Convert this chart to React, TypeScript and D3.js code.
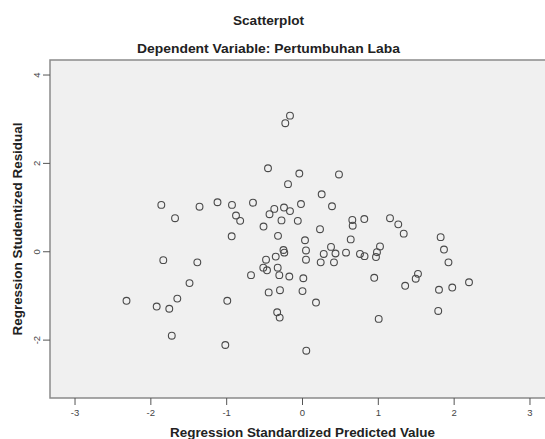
import React, { useEffect, useRef } from "react";
import * as d3 from "d3";

const titleText = "Scatterplot";
const subtitleText = "Dependent Variable: Pertumbuhan Laba";
const xTitle = "Regression Standardized Predicted Value";
const yTitle = "Regression Studentized Residual";

const xTicks = [-3, -2, -1, 0, 1, 2, 3];
const yTicks = [-2, 0, 2, 4];

const predicted = [
  -0.165, -0.227, -0.455, -0.042, -0.191, -1.862, -1.681, -1.358, -1.121, -0.93,
  -0.653, -0.877, -0.822, -0.514, -0.435, -0.372, -0.244, -0.165, -0.277, -0.062,
  -0.02, 0.481, 0.253, 0.389, 0.657, 0.815, 1.154, 1.263, 0.231, 0.662,
  -0.934, -1.836, -1.387, -0.679, 1.335, -0.323, 0.033, 0.636, -0.251, -0.24,
  -0.353, -0.481, 0.046, 0.046, 0.376, 0.28, 0.435, 0.24, 0.415, 0.574,
  0.758, 0.818, 1.022, 0.982, 0.969, -0.517, -0.468, -0.327, -0.306, -0.174,
  0.011, 0.946, -1.49, -1.651, -2.321, -1.923, -1.757, -0.992, -0.446, -0.297,
  0.0, -0.334, -0.301, -1.724, -1.018, 0.05, 1.822, 1.866, 1.925, 2.196,
  1.975, 1.8, 1.79, 1.523, 1.493, 1.354, 1.005, 0.178,
];

const residual = [
  3.08, 2.91, 1.89, 1.77, 1.53, 1.06, 0.76, 1.02, 1.12, 1.06,
  1.11, 0.82, 0.7, 0.57, 0.85, 0.97, 1.0, 0.92, 0.71, 0.7,
  1.08, 1.75, 1.3, 1.03, 0.72, 0.74, 0.76, 0.62, 0.51, 0.59,
  0.35, -0.19, -0.24, -0.53, 0.41, 0.36, 0.26, 0.28, 0.04, -0.02,
  -0.11, -0.18, 0.03, -0.18, 0.11, -0.05, -0.04, -0.24, -0.24, -0.02,
  -0.05, -0.1, 0.12, -0.01, -0.12, -0.36, -0.42, -0.36, -0.53, -0.56,
  -0.6, -0.59, -0.71, -1.06, -1.11, -1.24, -1.29, -1.11, -0.92, -0.87,
  -0.89, -1.37, -1.49, -1.9, -2.11, -2.24, 0.33, 0.05, -0.24, -0.69,
  -0.81, -0.86, -1.34, -0.5, -0.61, -0.77, -1.52, -1.15,
];

const W = 545;
const H = 439;
const FONT = "'Liberation Sans', Arial, sans-serif";

export default function App() {
  const ref = useRef<SVGSVGElement | null>(null);

  useEffect(() => {
    document.body.style.margin = "0";
    const svg = d3.select(ref.current);
    svg.selectAll("*").remove();

    const left = 50, top = 60, bottom = 398;
    const x = d3.scaleLinear().domain([-3.33, 3.33]).range([left, left + 505]);
    const y = d3.scaleLinear().domain([-3.31, 4.34]).range([bottom, top]);

    svg.append("rect").attr("width", W).attr("height", H).attr("fill", "#ffffff");

    svg.append("rect")
      .attr("x", left).attr("y", top)
      .attr("width", 505).attr("height", bottom - top)
      .attr("fill", "#f0f0f0")
      .attr("stroke", "#8a8a8a").attr("stroke-width", 1.5);

    const label = (
      txt: string, cx: number, cy: number, size: number, len: number, rot = 0
    ) =>
      svg.append("text")
        .attr("transform", `translate(${cx},${cy}) rotate(${rot})`)
        .attr("text-anchor", "middle").attr("font-family", FONT)
        .attr("font-size", size).attr("font-weight", "bold").attr("fill", "#222")
        .attr("textLength", len).attr("lengthAdjust", "spacingAndGlyphs")
        .text(txt);

    label(titleText, 268.5, 25, 12, 71);
    label(subtitleText, 268.5, 53, 12.5, 263);
    label(xTitle, 302.5, 436.5, 12, 265);
    label(yTitle, 21.5, 229, 12, 213, -90);

    // x axis
    const xa = svg.append("g");
    xTicks.forEach((t) => {
      xa.append("line").attr("x1", x(t)).attr("x2", x(t))
        .attr("y1", bottom).attr("y2", bottom + 7)
        .attr("stroke", "#555").attr("stroke-width", 1);
      xa.append("text").attr("x", x(t)).attr("y", 416)
        .attr("text-anchor", "middle").attr("font-family", FONT)
        .attr("font-size", 9.5).attr("fill", "#444")
        .text(String(t));
    });

    // y axis
    const ya = svg.append("g");
    yTicks.forEach((t) => {
      ya.append("line").attr("x1", left - 7).attr("x2", left)
        .attr("y1", y(t)).attr("y2", y(t))
        .attr("stroke", "#555").attr("stroke-width", 1);
      ya.append("text")
        .attr("transform", `translate(${left - 10},${y(t)}) rotate(-90)`)
        .attr("text-anchor", "middle").attr("font-family", FONT)
        .attr("font-size", 9.5).attr("fill", "#444")
        .text(String(t));
    });

    // points
    svg.append("g").selectAll("circle")
      .data(predicted.map((p, i) => [p, residual[i]]))
      .join("circle")
      .attr("cx", (d) => x(d[0]))
      .attr("cy", (d) => y(d[1]))
      .attr("r", 3.4)
      .attr("fill", "none")
      .attr("stroke", "#4a4a4a")
      .attr("stroke-width", 1.1);
  }, []);

  return (
    <svg
      ref={ref}
      width={W}
      height={H}
      style={{ position: "absolute", left: 0, top: 0, display: "block" }}
    />
  );
}
